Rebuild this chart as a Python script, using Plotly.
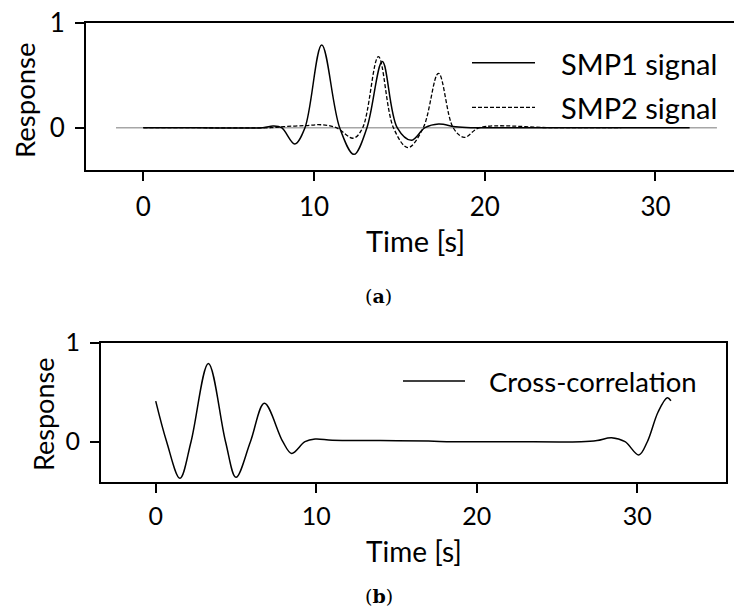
import plotly.graph_objects as go

W, H = 734, 610

# (a) SMP1 / SMP2 signals
smp1_t = [0, 3.0, 7.0, 7.6, 8.1, 8.87, 9.47, 10.45, 11.5, 12.34, 13.1, 14.0, 14.87,
          15.7, 16.5, 17.3, 18.3, 19.3, 24.0, 32.0]
smp1_v = [0, 0, 0.0, 0.015, 0.0, -0.155, 0.0, 0.787, 0.0, -0.254, 0.0, 0.63, 0.0,
          -0.12, 0.0, 0.035, 0.008, 0.0, 0.0, 0.0]

smp2_t = [0, 3.0, 7.5, 8.2, 9.5, 10.4, 11.3, 12.3, 12.85, 13.77, 14.65, 15.5, 16.4,
          17.29, 18.15, 18.8, 19.7, 24.0, 28.0]
smp2_v = [0, 0, 0.0, 0.01, 0.02, 0.028, 0.0, -0.10, 0.0, 0.676, 0.0, -0.19, 0.0,
          0.518, 0.0, -0.092, 0.0, 0.0, 0.0]

zero_t = [-1.6, 33.6]
zero_v = [0, 0]

# (b) cross-correlation
xc_t = [0.0, 0.68, 1.51, 2.2, 3.28, 4.35, 5.0, 5.9, 6.77, 7.92, 8.47, 9.3, 9.93,
        11.0, 14.0, 17.0, 18.5, 22.0, 26.5, 27.5, 28.4, 29.24, 30.1, 30.63, 31.3,
        31.87, 32.1]
xc_v = [0.41, 0.0, -0.37, 0.0, 0.79, 0.0, -0.36, 0.0, 0.388, 0.0, -0.118, 0.0, 0.027,
        0.015, 0.012, 0.006, 0.0, 0.0, 0.0, 0.012, 0.04, 0.0, -0.134, 0.0, 0.3,
        0.444, 0.414]

xticks = [0, 10, 20, 30]
yticks = [0, 1]

FONT = "Lato"


def px(x):
    return x / W


def py(y):
    return 1 - y / H


fig = go.Figure()
fig.add_trace(go.Scatter(x=zero_t, y=zero_v, mode="lines",
                         line=dict(color="#a6a6a6", width=1.5),
                         xaxis="x", yaxis="y", showlegend=False))
fig.add_trace(go.Scatter(x=smp1_t, y=smp1_v, mode="lines", name="SMP1 signal",
                         line=dict(color="black", width=1.5, shape="spline"),
                         xaxis="x", yaxis="y"))
fig.add_trace(go.Scatter(x=smp2_t, y=smp2_v, mode="lines", name="SMP2 signal",
                         line=dict(color="black", width=1.3, shape="spline",
                                   dash="4px,2px"),
                         xaxis="x", yaxis="y"))
fig.add_trace(go.Scatter(x=xc_t, y=xc_v, mode="lines", name="Cross-correlation",
                         line=dict(color="black", width=1.5, shape="spline"),
                         xaxis="x2", yaxis="y2"))

axis_common = dict(
    showgrid=False, zeroline=False, showline=True, linecolor="black", linewidth=2,
    ticks="outside", ticklen=9, tickwidth=1.5, tickcolor="black", automargin=False,
    tickfont=dict(family=FONT, size=26, color="black"),
)

fig.update_layout(
    template="none",
    width=W, height=H,
    margin=dict(l=0, r=0, t=0, b=0, pad=0),
    paper_bgcolor="white", plot_bgcolor="white",
    showlegend=False,
    xaxis=dict(axis_common, domain=[px(86), 1], range=[-3.357, 34.6],
               tickvals=xticks, anchor="y", mirror=True, ticklabelstandoff=4),
    yaxis=dict(axis_common, domain=[py(170), py(22.7)], range=[-0.403, 1.0],
               tickvals=yticks, anchor="x", ticklabelstandoff=5),
    xaxis2=dict(axis_common, domain=[px(101), px(726.3)], range=[-3.41, 35.55],
                tickvals=xticks, anchor="y2", mirror=True, ticklabelstandoff=2,
                tickfont=dict(family=FONT, size=25, color="black")),
    yaxis2=dict(axis_common, domain=[py(482.3), py(342.7)], range=[-0.41, 1.0],
                tickvals=yticks, anchor="x2", mirror=True, ticklabelstandoff=5,
                tickfont=dict(family=FONT, size=25, color="black")),
)

title_font = dict(family=FONT, size=29, color="black")
annotations = [
    dict(text="Time [s]", x=px(415), y=py(240), font=title_font),
    dict(text="Response", x=px(25), y=py(100), textangle=-90,
         font=dict(title_font, size=27.5)),
    dict(text="Time [s]", x=px(414), y=py(551), font=dict(title_font, size=28)),
    dict(text="Response", x=px(43), y=py(415), textangle=-90,
         font=dict(title_font, size=27)),
    # legend entries
    dict(text="SMP1 signal", x=px(559), y=py(63), xanchor="left", font=title_font),
    dict(text="SMP2 signal", x=px(559), y=py(107), xanchor="left", font=title_font),
    dict(text="Cross-correlation", x=px(487), y=py(381), xanchor="left",
         font=dict(title_font, size=27.5)),
    # panel captions
    dict(text="(<b>a</b>)", x=px(378), y=py(296),
         font=dict(family="DejaVu Serif", size=19, color="black")),
    dict(text="(<b>b</b>)", x=px(379), y=py(596),
         font=dict(family="DejaVu Serif", size=19, color="black")),
]
for a in annotations:
    a.setdefault("xref", "paper")
    a.setdefault("yref", "paper")
    a.setdefault("showarrow", False)
    a.setdefault("xanchor", "center")
    a.setdefault("yanchor", "middle")
fig.update_layout(annotations=annotations)

shapes = [
    dict(type="line", x0=px(472), x1=px(535), y0=py(62.7), y1=py(62.7),
         line=dict(color="black", width=1.5)),
    dict(type="line", x0=px(472), x1=px(535), y0=py(107.3), y1=py(107.3),
         line=dict(color="black", width=1.3, dash="4px,2px")),
    dict(type="line", x0=px(403), x1=px(465), y0=py(381), y1=py(381),
         line=dict(color="black", width=1.5)),
]
for s in shapes:
    s["xref"] = "paper"
    s["yref"] = "paper"
fig.update_layout(shapes=shapes)

# drop the default page margin so the figure sits at the window's corner
fig.write_html("out.html", config={"displayModeBar": False},
               post_script="document.body.style.margin='0px';")
